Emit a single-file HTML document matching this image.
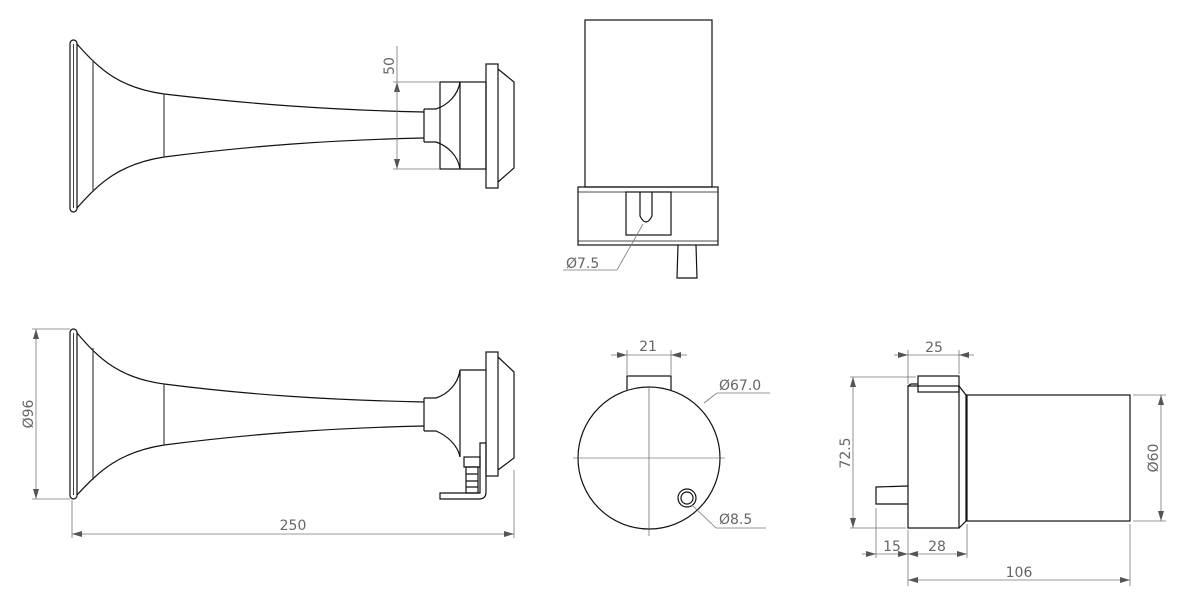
<!DOCTYPE html>
<html><head><meta charset="utf-8"><style>
html,body{margin:0;padding:0;background:#fff}
svg{display:block}
text{font-family:"DejaVu Sans","Liberation Sans",sans-serif;font-size:14px;fill:#666}
</style></head><body>
<svg width="1200" height="599" viewBox="0 0 1200 599" xmlns="http://www.w3.org/2000/svg">
<defs>
<marker id="a" viewBox="0 0 10 6" refX="10" refY="3" markerWidth="10" markerHeight="6" orient="auto-start-reverse" markerUnits="userSpaceOnUse"><path d="M0,0 L10,3 L0,6 z" fill="#555"/></marker>
</defs>
<g fill="none" stroke="#111" stroke-width="1.2">
<!-- top horn -->
<rect x="70" y="40" width="7" height="172" rx="3.5"/>
<line x1="73.5" y1="44" x2="73.5" y2="208" stroke-width="0.8"/>
<path d="M77,44 C100,70 120,88 164,94 C250,104 330,110 424,112"/>
<path d="M77,208 C100,182 120,164 164,157 C250,146 330,140 424,138"/>
<line x1="93" y1="60" x2="93" y2="192" stroke="#444"/>
<line x1="164" y1="94" x2="164" y2="157" stroke="#444"/>
<path d="M424,109 L424,142 M424,109 L436,109 C448,105 458,95 460,82 M424,142 L436,142 C448,146 458,156 460,169"/>
<rect x="440" y="82" width="46" height="87"/>
<line x1="460" y1="82" x2="460" y2="169"/>
<rect x="486" y="64" width="12" height="124"/>
<path d="M498,69 L514,82 L514,168 L498,182"/>
<!-- bottom horn -->
<rect x="70" y="329" width="7" height="170" rx="3.5"/>
<line x1="73.5" y1="333" x2="73.5" y2="495" stroke-width="0.8"/>
<path d="M77,333 C100,360 120,378 164,384 C250,395 330,400 424,402"/>
<path d="M77,495 C100,470 120,452 164,445 C250,434 330,428 424,426"/>
<line x1="93" y1="348" x2="93" y2="480" stroke="#444"/>
<line x1="164" y1="384" x2="164" y2="445" stroke="#444"/>
<path d="M424,398 L424,431 M424,398 L436,398 C448,394 458,384 460,370 M424,431 L436,431 C448,436 458,446 460,457"/>
<path d="M460,370 L486,370 M460,370 L460,457"/>
<rect x="486" y="352" width="12" height="124"/>
<path d="M498,357 L514,372 L514,458 L498,470"/>
<path d="M440,493 L480,493 L480,443 L486,443 L486,492 Q486,499 479,499 L440,499 Z"/>
<rect x="464" y="457" width="16" height="10"/>
<path d="M466,467 L478,467 L478,493 L466,493 Z M466,474 L478,474 M466,481 L478,481 M466,487 L478,487"/>
<!-- top middle -->
<rect x="585" y="20" width="127" height="167"/>
<rect x="578" y="187" width="140" height="58"/>
<line x1="578" y1="192" x2="718" y2="192" stroke-width="0.8"/>
<line x1="578" y1="241" x2="718" y2="241" stroke-width="0.8"/>
<rect x="626" y="192" width="45" height="43"/>
<path d="M640,192 L640,216 Q646,228 652,216 L652,192"/>
<path d="M678,245 L677,278 L697,278 L696,245"/>
<!-- bottom middle -->
<rect x="627" y="376" width="44" height="18"/>
<circle cx="649" cy="458" r="71" fill="#fff"/>
<circle cx="687" cy="498" r="9"/>
<circle cx="687" cy="498" r="6"/>
<!-- bottom right -->
<rect x="908" y="386" width="51" height="142"/>
<path d="M908,386 L911,384 L918,384"/>
<rect x="918" y="376" width="41" height="16"/>
<path d="M959,386 L966,395 L966,521 L959,528"/>
<rect x="967" y="395" width="163" height="126"/>
<path d="M908,486 L876,487 L876,504 L908,504"/>
</g>
<g fill="none" stroke="#444" stroke-width="0.6">
<line x1="573" y1="458" x2="725" y2="458"/>
<line x1="649" y1="388" x2="649" y2="536"/>
</g>
<g fill="none" stroke="#777" stroke-width="0.8">
<line x1="393" y1="82" x2="440" y2="82"/><line x1="393" y1="169" x2="440" y2="169"/>
<line x1="397" y1="46" x2="397" y2="82"/>
<line x1="397" y1="90" x2="397" y2="82" marker-end="url(#a)"/>
<line x1="397" y1="90" x2="397" y2="169" marker-end="url(#a)"/>
<line x1="32" y1="329" x2="70" y2="329"/><line x1="32" y1="499" x2="70" y2="499"/>
<line x1="36" y1="329" x2="36" y2="499" marker-start="url(#a)" marker-end="url(#a)"/>
<line x1="72" y1="500" x2="72" y2="538"/><line x1="514" y1="470" x2="514" y2="538"/>
<line x1="72" y1="534" x2="514" y2="534" marker-start="url(#a)" marker-end="url(#a)"/>
<path d="M643,224 L617,270 L563,270"/>
<line x1="627" y1="350" x2="627" y2="376"/><line x1="671" y1="350" x2="671" y2="376"/>
<line x1="611" y1="355" x2="627" y2="355" marker-end="url(#a)"/>
<line x1="687" y1="355" x2="671" y2="355" marker-end="url(#a)"/>
<line x1="627" y1="355" x2="671" y2="355"/>
<path d="M704,403 L717,393 L770,393"/>
<path d="M692,505 L716,528 L766,528"/>
<line x1="850" y1="377" x2="916" y2="377"/><line x1="850" y1="528" x2="906" y2="528"/>
<line x1="853" y1="377" x2="853" y2="528" marker-start="url(#a)" marker-end="url(#a)"/>
<line x1="1133" y1="395" x2="1166" y2="395"/><line x1="1133" y1="521" x2="1166" y2="521"/>
<line x1="1161" y1="395" x2="1161" y2="521" marker-start="url(#a)" marker-end="url(#a)"/>
<line x1="908" y1="350" x2="908" y2="384"/><line x1="959" y1="350" x2="959" y2="374"/>
<line x1="894" y1="355" x2="908" y2="355" marker-end="url(#a)"/>
<line x1="974" y1="355" x2="959" y2="355" marker-end="url(#a)"/>
<line x1="908" y1="355" x2="959" y2="355"/>
<line x1="876" y1="508" x2="876" y2="558"/><line x1="908" y1="530" x2="908" y2="586"/><line x1="967" y1="524" x2="967" y2="558"/>
<line x1="862" y1="554" x2="876" y2="554" marker-end="url(#a)"/>
<line x1="876" y1="554" x2="908" y2="554" marker-end="url(#a)"/>
<line x1="908" y1="554" x2="967" y2="554" marker-start="url(#a)" marker-end="url(#a)"/>
<line x1="1130" y1="524" x2="1130" y2="586"/>
<line x1="908" y1="580" x2="1130" y2="580" marker-start="url(#a)" marker-end="url(#a)"/>
</g>
<text transform="translate(394,66) rotate(-90)" text-anchor="middle">50</text>
<text transform="translate(33,414) rotate(-90)" text-anchor="middle">Ø96</text>
<text x="293" y="530" text-anchor="middle">250</text>
<text x="566" y="268">Ø7.5</text>
<text x="648" y="351" text-anchor="middle">21</text>
<text x="719" y="390">Ø67.0</text>
<text x="719" y="524">Ø8.5</text>
<text transform="translate(850,453) rotate(-90)" text-anchor="middle">72.5</text>
<text transform="translate(1158,458) rotate(-90)" text-anchor="middle">Ø60</text>
<text x="934" y="352" text-anchor="middle">25</text>
<text x="892" y="551" text-anchor="middle">15</text>
<text x="937" y="551" text-anchor="middle">28</text>
<text x="1019" y="577" text-anchor="middle">106</text>
</svg>
</body></html>
